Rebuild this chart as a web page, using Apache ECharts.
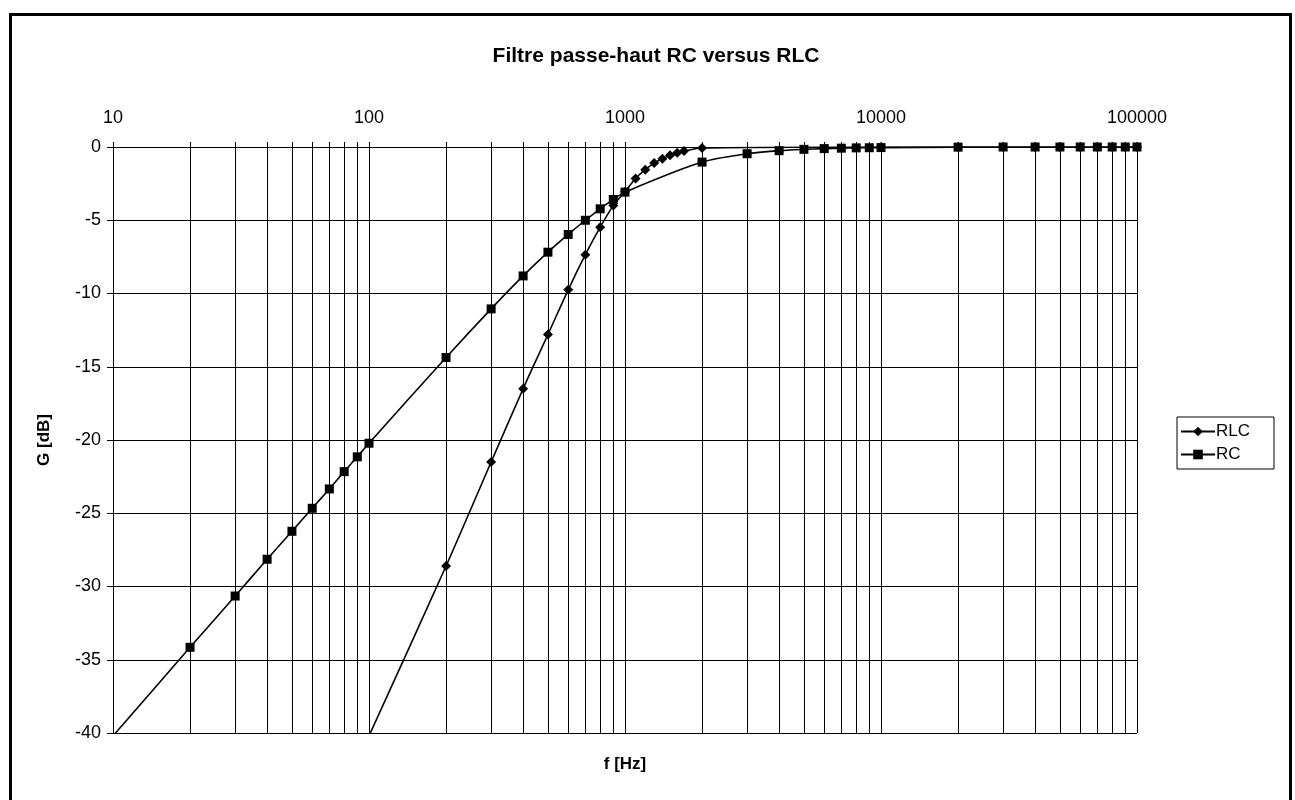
<!DOCTYPE html>
<html><head><meta charset="utf-8">
<script src="https://cdn.jsdelivr.net/npm/echarts@6/dist/echarts.min.js"></script>
<style>html,body{margin:0;padding:0;background:#fff}#c{width:1295px;height:800px}</style>
</head><body><div id="c"></div>
<script>
const title = 'Filtre passe-haut RC versus RLC';
const xName = 'f [Hz]';
const yName = 'G [dB]';
const xTickValues = [10,20,30,40,50,60,70,80,90,100,200,300,400,500,600,700,800,900,1000,2000,3000,4000,5000,6000,7000,8000,9000,10000,20000,30000,40000,50000,60000,70000,80000,90000,100000];
const xLabelValues = [10,100,1000,10000,100000];

const rlcFreq = [100,200,300,400,500,600,700,800,900,1000,1100,1200,1300,1400,1500,1600,1700,2000,10000,20000,30000,40000,50000,60000,70000,80000,90000,100000];
const rlcGain = [-40.2,-28.6,-21.5,-16.5,-12.8,-9.75,-7.35,-5.47,-4.0,-3.05,-2.15,-1.55,-1.1,-0.8,-0.57,-0.4,-0.28,-0.07,0,0,0,0,0,0,0,0,0,0];

const rcFreq = [10,20,30,40,50,60,70,80,90,100,200,300,400,500,600,700,800,900,1000,2000,3000,4000,5000,6000,7000,8000,9000,10000,20000,30000,40000,50000,60000,70000,80000,90000,100000];
const rcGain = [-40.2,-34.15,-30.65,-28.14,-26.23,-24.66,-23.34,-22.16,-21.15,-20.22,-14.37,-11.05,-8.8,-7.18,-5.97,-5.0,-4.22,-3.58,-3.08,-1.03,-0.46,-0.25,-0.16,-0.11,-0.08,-0.06,-0.05,-0.04,-0.01,0,0,0,0,0,0,0,0];

const pair = (xs, ys) => xs.map((x, i) => [x, ys[i]]);
const FONT = 'Liberation Sans, Arial, sans-serif';

const chart = echarts.init(document.getElementById('c'), null, {renderer: 'canvas'});
chart.setOption({
  animation: false,
  backgroundColor: '#fff',
  textStyle: {fontFamily: FONT, color: '#000'},
  title: {
    text: title, left: 651, top: 41, textAlign: 'center',
    textStyle: {fontFamily: FONT, fontSize: 21, fontWeight: 'bold', color: '#000'}
  },
  graphic: [{
    type: 'rect', left: 8, top: 12, z: 100, silent: true,
    shape: {width: 1280, height: 800},
    style: {fill: 'none', stroke: '#000', lineWidth: 3}
  }],
  legend: {
    orient: 'vertical', left: 1177, top: 417,
    borderColor: '#000', borderWidth: 1, padding: [6, 24, 6, 3],
    itemWidth: 34, itemHeight: 12, itemGap: 6,
    textStyle: {fontFamily: FONT, fontSize: 17, color: '#000', padding: [0,0,0,-4]},
    data: ['RLC', 'RC']
  },
  grid: {left: 113, right: 158, top: 147, bottom: 67, containLabel: false, outerBoundsMode: 'none'},
  xAxis: {
    type: 'log', logBase: 10, min: 10, max: 100000, position: 'top',
    name: xName, nameLocation: 'middle', nameGap: -626,
    nameTextStyle: {fontFamily: FONT, fontSize: 17, fontWeight: 'bold', color: '#000'},
    axisLine: {show: true, onZero: false, lineStyle: {color: '#000', width: 1}},
    axisTick: {show: true, length: 5, customValues: xTickValues, lineStyle: {color: '#000'}},
    axisLabel: {customValues: xLabelValues, margin: 20, fontFamily: FONT, fontSize: 18, color: '#000',
      formatter: v => String(Math.round(v))},
    splitLine: {show: true, lineStyle: {color: '#000', width: 1}},
    minorTick: {show: false}, minorSplitLine: {show: false}
  },
  yAxis: {
    type: 'value', min: -40, max: 0, interval: 5,
    name: yName, nameLocation: 'middle', nameGap: 60, nameRotate: 90,
    nameTextStyle: {fontFamily: FONT, fontSize: 17, fontWeight: 'bold', color: '#000'},
    axisLine: {show: true, onZero: false, lineStyle: {color: '#000', width: 1}},
    axisTick: {show: true, length: 6, lineStyle: {color: '#000'}},
    axisLabel: {margin: 12, fontFamily: FONT, fontSize: 18, color: '#000'},
    splitLine: {show: true, lineStyle: {color: '#000', width: 1}}
  },
  series: [
    {
      name: 'RLC', type: 'line', data: pair(rlcFreq, rlcGain), smooth: 0.3, clip: true,
      symbol: 'diamond', symbolSize: [10, 10], showAllSymbol: true,
      lineStyle: {color: '#000', width: 1.6}, itemStyle: {color: '#000'}
    },
    {
      name: 'RC', type: 'line', data: pair(rcFreq, rcGain), smooth: 0.3, clip: true,
      symbol: 'rect', symbolSize: 9, showAllSymbol: true,
      lineStyle: {color: '#000', width: 1.6}, itemStyle: {color: '#000'}
    }
  ]
});
</script></body></html>
